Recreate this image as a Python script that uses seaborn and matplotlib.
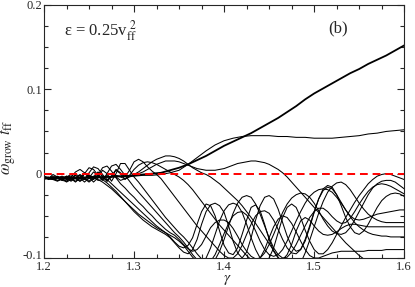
import numpy as np
import pandas as pd
import matplotlib
matplotlib.use('Agg')
import matplotlib.pyplot as plt
import matplotlib.transforms as mtrans
import seaborn as sns
from matplotlib.ticker import MultipleLocator

# growth rate curves, values in units of 1e-3
gamma_fine = np.linspace(1.2, 1.6, 81)   # step 0.005
gamma_coarse = np.linspace(1.2, 1.6, 41)  # step 0.01

mode_1 = [-4, -6, -1, -4, -8, -9, -4, 2, 5, 1,
          -3, -5, -7, -10, -14, -18, -23, -28, -33, -38,
          -43, -48, -52, -56, -60, -64, -67, -70, -75, -81,
          -86, -88, -85, -76, -60, -45, -36, -38, -50, -68,
          -85, -94, -96, -88, -72, -55, -40, -37, -44, -60,
          -78, -92, -100, -102, -96, -84, -68, -56, -52, -55,
          -62, -68, -72, -73, -72, -69, -65, -62, -60, -60,
          -61, -62, -63, -63, -63, -63, -63, -63, -63, -63, -63]
mode_2 = [-7, -5, -3, -5, -8, -4, -1, -5, -9, 0,
          7, 5, -2, -7, -11, -16, -21, -27, -33, -39,
          -45, -50, -55, -59, -63, -66, -69, -72, -76, -82,
          -88, -93, -95, -90, -78, -60, -45, -37, -35, -38,
          -46, -62, -80, -94, -100, -93, -76, -55, -38, -28,
          -26, -30, -42, -58, -74, -86, -92, -90, -80, -64,
          -46, -30, -18, -14, -16, -25, -38, -52, -63, -70,
          -72, -68, -60, -50, -40, -32, -27, -24, -23, -24, -27]
mode_3 = [-4, -6, -5, -3, -6, -10, -7, -1, -3, -7,
          1, 8, 6, -1, -7, -12, -17, -22, -27, -32,
          -37, -42, -47, -52, -57, -62, -66, -70, -73, -76,
          -80, -85, -92, -99, -104, -105, -100, -88, -72, -56,
          -44, -37, -35, -37, -46, -60, -76, -90, -100, -104,
          -100, -88, -70, -52, -40, -36, -40, -52, -67, -80,
          -90, -95, -95, -90, -82, -72, -62, -52, -43, -34,
          -26, -19, -12, -7, -3, -1, 0, -1, -3, -5, -7]
mode_4 = [-6, -5, -7, -9, -6, -3, -6, -10, -5, 1,
          -3, -7, -2, 7, 9, 3, -5, -12, -17, -23,
          -28, -34, -39, -45, -50, -56, -61, -66, -70, -73,
          -78, -84, -89, -92, -90, -84, -74, -64, -58, -55,
          -55, -58, -65, -74, -84, -92, -98, -101, -100, -94,
          -84, -72, -59, -46, -36, -29, -25, -23, -24, -28,
          -35, -44, -54, -62, -68, -71, -72, -70, -64, -55,
          -45, -35, -25, -17, -12, -9, -8, -8, -10, -14, -18]
mode_5 = [-5, -7, -6, -4, -6, -9, -6, -2, -5, -10,
          -5, 2, -2, -8, 0, 9, 11, 5, -2, -9,
          -16, -22, -28, -34, -40, -46, -52, -58, -64, -70,
          -75, -81, -88, -96, -102, -106, -107, -104, -96, -84,
          -71, -59, -50, -46, -45, -49, -57, -68, -80, -90,
          -96, -98, -96, -90, -80, -68, -56, -45, -35, -27,
          -22, -19, -18, -19, -22, -28, -35, -43, -51, -58,
          -63, -67, -70, -72, -73, -74, -74, -75, -75, -75, -75]
mode_6 = [-6, -5, -6, -8, -6, -3, -5, -9, -6, 0,
          -4, -10, -5, 4, 0, -9, 0, 12, 12, 4,
          -4, -10, -17, -24, -31, -38, -45, -52, -58, -64,
          -70, -75, -81, -88, -95, -101, -105, -106, -102, -92,
          -78, -62, -47, -35, -28, -26, -28, -36, -48, -62,
          -76, -88, -96, -100, -99, -93, -84, -73, -62, -52,
          -45, -41, -41, -45, -51, -56, -59, -58, -53, -45,
          -36, -28, -21, -16, -13, -12, -13, -15, -18, -21, -24]
mode_7 = [-4, -5, -6, -5, -4, -6, -8, -5, -2, -6,
          -10, -6, 1, -3, -9, -3, 5, 1, -4, 4,
          14, 17, 14, 8, 3, -1, -6, -13, -20, -27,
          -34, -41, -48, -55, -62, -68, -74, -80, -86, -92,
          -97, -100, -100, -95, -85, -72, -60, -50, -45, -44,
          -47, -55, -66, -78, -88, -94, -95, -90, -78, -62,
          -45, -30, -20, -16, -18, -25, -34, -43, -50, -54,
          -55, -54, -52, -50, -48, -47, -46, -45, -44, -43, -43]
mode_8 = [-4, -6, -7, -5, -3, -5, -9, -5, -1, -5,
          -9, -4, 2, -3, -9, -3, 4, 0, -7, -2,
          5, 10, 13, 14, 13, 11, 8, 5, 2, -1,
          -4, -8, -13, -19, -26, -33, -40, -47, -54, -61,
          -67, -73, -79, -85, -91, -97, -102, -104, -100, -90,
          -76, -63, -54, -50, -52, -59, -69, -80, -90, -97,
          -100, -100, -98, -96, -94, -93, -92, -92, -92, -92,
          -92, -92, -91, -91, -91, -91, -90, -90, -90, -90, -90]
mode_9 = [-5, -4, -6, -8, -7, -4, -3, -6, -9, -6,
          -2, -4, -8, -7, -2, 0, -4, -8, -6, -3,
          -1, 2, 6, 10, 14, 17, 19, 21, 21, 20,
          18, 15, 11, 7, 4, 1, -1, -4, -8, -12,
          -17, -22, -27, -32, -38, -45, -52, -59, -67, -75,
          -83, -91, -99, -106, -111, -114, -113, -106, -94, -79,
          -63, -47, -33, -22, -15, -11, -10, -13, -19, -27,
          -35, -42, -48, -52, -55, -57, -58, -58, -58, -58, -58]
mode_10 = [-3, -5, -5, -4, -5, -7, -6, -4, -5, -7,
           -6, -3, -3, -6, -7, -4, -2, -4, -6, -4,
           -2, 0, 2, 5, 8, 11, 13, 15, 15, 15,
           14, 12, 10, 8, 6, 5, 4, 4, 4, 5,
           6, 8, 10, 12, 13, 14, 15, 15, 14, 13,
           11, 8, 5, 1, -4, -10, -16, -22, -28, -34,
           -40, -46, -52, -58, -64, -70, -76, -82, -87, -92,
           -97, -101, -105, -108, -111, -113, -115, -116, -117, -117, -117]

upper_mode = [-4, -5, -6, -6, -6, -5, -5, -4, -4, -3,
              -3, -2, -2, -1, 1, 4, 11, 19, 27, 34,
              39, 42, 44, 45, 45, 45, 44, 44, 43, 43,
              42, 42, 42, 43, 44, 45, 47, 48, 50, 51, 52]
top_mode = [-5, -5, -5, -5, -5, -4, -4, -4, -3, -3,
            -2, -1, 0, 1, 4, 7, 11, 16, 21, 27,
            33, 38, 43, 48, 54, 60, 66, 73, 80, 88,
            95, 101, 107, 113, 119, 124, 130, 135, 140, 146, 152]

thin_modes = [mode_1, mode_2, mode_3, mode_4, mode_5, mode_6,
              mode_7, mode_8, mode_9, mode_10]

rows = []
for n, vals in enumerate(thin_modes):
    for g, v in zip(gamma_fine, vals):
        rows.append(('m%d' % n, g, v / 1000.0))
for g, v in zip(gamma_coarse, upper_mode):
    rows.append(('upper', g, v / 1000.0))
df = pd.DataFrame(rows, columns=['mode', 'gamma', 'omega'])
df_top = pd.DataFrame({'gamma': gamma_coarse, 'omega': np.array(top_mode) / 1000.0})

sns.set_style('ticks')
plt.rcParams['font.family'] = ['Liberation Serif', 'DejaVu Serif']
plt.rcParams['mathtext.fontset'] = 'stix'

fig = plt.figure(figsize=(4.15, 2.87), dpi=100)
ax = fig.add_axes([0.106, 0.101, 0.868, 0.882])

sns.lineplot(data=df, x='gamma', y='omega', units='mode', estimator=None,
             sort=False, color='black', linewidth=0.75, ax=ax)
sns.lineplot(data=df_top, x='gamma', y='omega', estimator=None, sort=False,
             color='black', linewidth=1.3, ax=ax)
ax.axhline(0, color='red', linestyle=(0, (4, 2.5)), linewidth=1.4, zorder=5)

ax.set_xlim(1.2, 1.6)
ax.set_ylim(-0.1, 0.2)
ax.xaxis.set_major_locator(MultipleLocator(0.1))
ax.xaxis.set_minor_locator(MultipleLocator(0.025))
ax.yaxis.set_major_locator(MultipleLocator(0.1))
ax.yaxis.set_minor_locator(MultipleLocator(0.025))
ax.xaxis.set_major_formatter(plt.FuncFormatter(lambda v, p: '%g' % round(v, 2)))
ax.yaxis.set_major_formatter(plt.FuncFormatter(lambda v, p: '%g' % round(v, 2)))
ax.tick_params(which='both', direction='in', top=True, right=True,
               labelsize=9, width=0.8)
ax.tick_params(axis='y', pad=1.5)
ax.tick_params(axis='x', pad=2.5)
ax.tick_params(which='major', length=5)
ax.tick_params(which='minor', length=3)
for s in ax.spines.values():
    s.set_linewidth(0.8)

# nudge the lowest y label up a little so it clears "1.2"
fig.canvas.draw()
for tick in ax.yaxis.get_major_ticks():
    if abs(tick.get_loc() + 0.1) < 1e-6:
        lab = tick.label1
        lab.set_transform(lab.get_transform() +
                          mtrans.ScaledTranslation(0, 2.5 / 72, fig.dpi_scale_trans))

ax.set_xlabel(r'$\gamma$', fontsize=11)
ax.xaxis.set_label_coords(0.508, -0.058)
ax.set_ylabel(r'$\omega_{\rm grow}\ t_{\rm ff}$', fontsize=12)
ax.yaxis.set_label_coords(-0.072, 0.435)

ax.text(0.056, 0.877, r'ε = 0.25v$_{\mathrm{ff}}^{\ 2}$',
        transform=ax.transAxes, fontsize=12, ha='left', va='baseline')
ax.text(0.817, 0.909, '(b)', transform=ax.transAxes, fontsize=12,
        ha='center', va='center')

fig.savefig('out.png', dpi=100)
